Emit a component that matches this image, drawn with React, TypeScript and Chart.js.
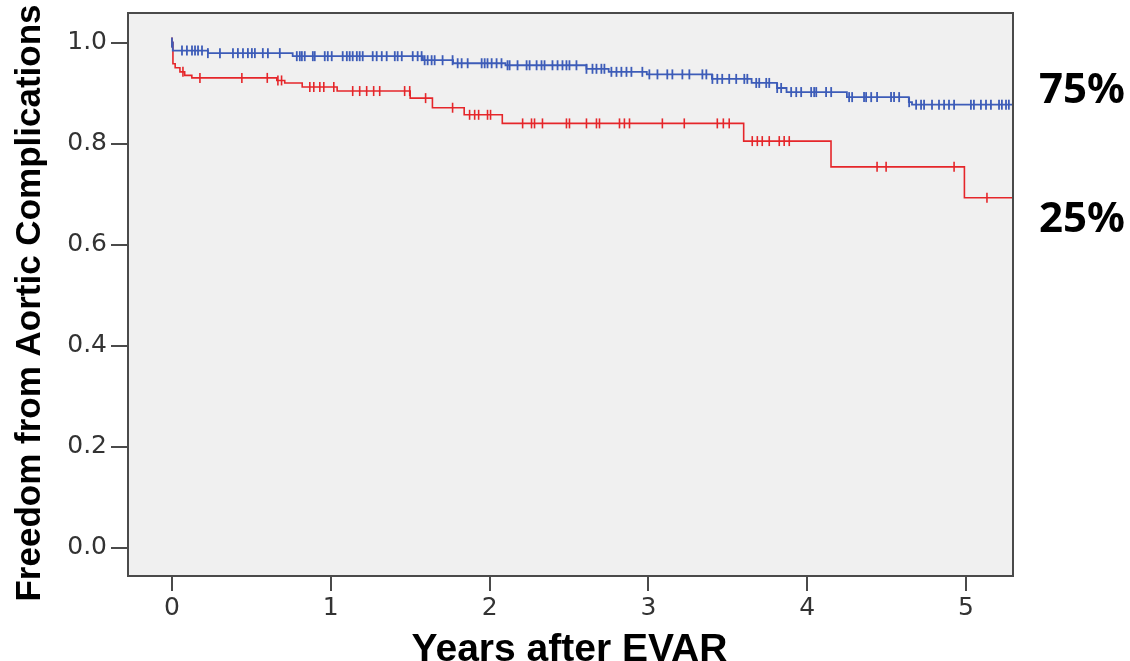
import React, { useEffect, useRef } from "react";
import { Chart, registerables } from "chart.js";

Chart.register(...registerables);

// Kaplan–Meier step times (years) and survival values
const blueTimes = [0.005, 0.226, 0.76, 1.58, 1.77, 2.1, 2.61, 2.75, 2.99, 3.4, 3.65, 3.81, 3.87, 4.25, 4.64, 4.66];
const blueSurv = [0.984, 0.979, 0.973, 0.965, 0.959, 0.955, 0.948, 0.942, 0.937, 0.928, 0.92, 0.91, 0.902, 0.892, 0.882, 0.877];

const redTimes = [0.006, 0.02, 0.05, 0.08, 0.125, 0.66, 0.71, 0.82, 1.04, 1.5, 1.64, 1.84, 2.08, 3.6, 4.15, 4.99];
const redSurv = [0.958, 0.95, 0.942, 0.935, 0.93, 0.925, 0.92, 0.912, 0.904, 0.89, 0.871, 0.857, 0.84, 0.805, 0.754, 0.693];

// Censoring times (years)
const blueCensor = [
  0.0, 0.063, 0.094, 0.126, 0.145, 0.164, 0.189, 0.226, 0.302, 0.384, 0.415, 0.447, 0.478, 0.503, 0.522, 0.572, 0.604,
  0.679, 0.786, 0.805, 0.818, 0.836, 0.887, 0.899, 0.962, 0.981, 1.006, 1.075, 1.101, 1.119, 1.138, 1.164, 1.182,
  1.201, 1.264, 1.289, 1.321, 1.352, 1.403, 1.421, 1.447, 1.516, 1.547, 1.572, 1.591, 1.61, 1.635, 1.654, 1.704,
  1.767, 1.799, 1.824, 1.862, 1.95, 1.969, 1.987, 2.013, 2.044, 2.075, 2.113, 2.126, 2.176, 2.233, 2.252, 2.296,
  2.327, 2.346, 2.396, 2.428, 2.459, 2.484, 2.503, 2.547, 2.61, 2.648, 2.673, 2.704, 2.723, 2.767, 2.799, 2.83,
  2.862, 2.893, 2.962, 3.006, 3.057, 3.119, 3.151, 3.214, 3.258, 3.34, 3.365, 3.403, 3.434, 3.465, 3.509, 3.553,
  3.604, 3.623, 3.679, 3.698, 3.742, 3.761, 3.811, 3.836, 3.899, 3.931, 3.962, 4.025, 4.044, 4.057, 4.119, 4.151,
  4.264, 4.283, 4.358, 4.371, 4.403, 4.44, 4.528, 4.547, 4.579, 4.642, 4.686, 4.717, 4.736, 4.786, 4.83, 4.862,
  4.893, 4.925, 5.031, 5.05, 5.094, 5.126, 5.157, 5.208, 5.226, 5.252, 5.27,
];
const redCensor = [
  0.0, 0.069, 0.176, 0.44, 0.6, 0.667, 0.69, 0.868, 0.893, 0.931, 0.956, 1.019, 1.138, 1.182, 1.226, 1.27, 1.308,
  1.465, 1.497, 1.597, 1.767, 1.874, 1.906, 1.931, 1.987, 2.006, 2.208, 2.264, 2.283, 2.333, 2.484, 2.503, 2.61,
  2.673, 2.692, 2.818, 2.849, 2.881, 3.088, 3.226, 3.434, 3.472, 3.509, 3.654, 3.686, 3.717, 3.761, 3.824, 3.855,
  3.887, 4.44, 4.497, 4.925, 5.132,
];

const followUpEnd = 5.3;
const xTicks = [0, 1, 2, 3, 4, 5];
const yTicks = [0, 0.2, 0.4, 0.6, 0.8, 1.0];
const groupLabels = ["75%", "25%"];
const xTitle = "Years after EVAR";
const yTitle = "Freedom from Aortic Complications";

const BLUE = "#3d5cb8";
const RED = "#e5262a";

function stepPoints(times: number[], surv: number[]) {
  const pts = [{ x: 0, y: 1 }];
  times.forEach((t, i) => pts.push({ x: t, y: surv[i] }));
  pts.push({ x: followUpEnd, y: surv[surv.length - 1] });
  return pts;
}

function survAt(times: number[], surv: number[], t: number) {
  let s = 1;
  for (let i = 0; i < times.length; i++) if (times[i] <= t) s = surv[i];
  return s;
}

function censorPoints(censor: number[], times: number[], surv: number[]) {
  return censor.map((t) => ({ x: t, y: survAt(times, surv, t) }));
}

const boxPlugin = {
  id: "boxPlugin",
  beforeDraw(chart: any) {
    const { ctx, chartArea } = chart;
    const { left, top, right, bottom } = chartArea;
    ctx.save();
    ctx.fillStyle = "#f0f0f0";
    ctx.fillRect(left, top, right - left, bottom - top);
    ctx.restore();
  },
  afterDraw(chart: any) {
    const { ctx, chartArea } = chart;
    const { left, top, right, bottom } = chartArea;
    ctx.save();
    ctx.strokeStyle = "#4a4a4a";
    ctx.lineWidth = 2;
    ctx.strokeRect(left, top, right - left, bottom - top);

    // axis titles
    ctx.fillStyle = "#000";
    ctx.font = "bold 39px 'Liberation Sans', Arial, sans-serif";
    ctx.textAlign = "center";
    ctx.textBaseline = "alphabetic";
    ctx.fillText(xTitle, (left + right) / 2 - 1, 661);

    ctx.save();
    ctx.translate(40, 303);
    ctx.rotate(-Math.PI / 2);
    ctx.font = "bold 35px 'Liberation Sans', Arial, sans-serif";
    ctx.fillText(yTitle, 0, 0);
    ctx.restore();

    // group labels
    ctx.font = "bold 42px 'Noto Sans', sans-serif";
    ctx.textAlign = "right";
    ctx.fillText(groupLabels[0], 1125, 103);
    ctx.fillText(groupLabels[1], 1125, 232);
    ctx.restore();
  },
};

export default function App() {
  const ref = useRef<HTMLCanvasElement | null>(null);

  useEffect(() => {
    if (!ref.current) return;
    const tickFont = { family: "'DejaVu Sans', sans-serif", size: 25 };
    const chart = new Chart(ref.current, {
      type: "scatter",
      data: {
        datasets: [
          {
            data: stepPoints(blueTimes, blueSurv),
            showLine: true,
            stepped: true,
            borderColor: BLUE,
            borderWidth: 1.8,
            pointRadius: 0,
          },
          {
            data: stepPoints(redTimes, redSurv),
            showLine: true,
            stepped: true,
            borderColor: RED,
            borderWidth: 1.6,
            pointRadius: 0,
          },
          {
            data: censorPoints(blueCensor, blueTimes, blueSurv),
            showLine: false,
            pointStyle: "line",
            rotation: 90,
            pointRadius: 5,
            pointBorderWidth: 1.8,
            borderColor: BLUE,
            backgroundColor: BLUE,
          },
          {
            data: censorPoints(redCensor, redTimes, redSurv),
            showLine: false,
            pointStyle: "line",
            rotation: 90,
            pointRadius: 5,
            pointBorderWidth: 1.6,
            borderColor: RED,
            backgroundColor: RED,
          },
        ],
      },
      options: {
        animation: false,
        responsive: true,
        maintainAspectRatio: false,
        layout: { padding: { left: 0, top: 13, right: 117, bottom: 0 } },
        plugins: { legend: { display: false }, tooltip: { enabled: false } },
        scales: {
          x: {
            type: "linear",
            min: -0.277,
            max: 5.296,
            afterFit: (axis: any) => {
              axis.height = 85;
              axis.paddingLeft = 0;
              axis.paddingRight = 0;
            },
            afterBuildTicks: (axis: any) => {
              axis.ticks = xTicks.map((v) => ({ value: v }));
            },
            border: { display: false },
            grid: { drawOnChartArea: false, drawTicks: true, tickLength: 15, color: "#4a4a4a", lineWidth: 2 },
            ticks: {
              font: tickFont,
              color: "#333",
              padding: 2,
              maxRotation: 0,
              callback: (v: any) => String(v),
            },
          },
          y: {
            type: "linear",
            min: -0.0554,
            max: 1.0584,
            afterFit: (axis: any) => {
              axis.width = 128;
              axis.paddingTop = 0;
              axis.paddingBottom = 0;
            },
            afterBuildTicks: (axis: any) => {
              axis.ticks = yTicks.map((v) => ({ value: v }));
            },
            border: { display: false },
            grid: { drawOnChartArea: false, drawTicks: true, tickLength: 17, color: "#4a4a4a", lineWidth: 2 },
            ticks: {
              font: tickFont,
              color: "#333",
              padding: 4,
              callback: (v: any) => Number(v).toFixed(1),
            },
          },
        },
      },
      plugins: [boxPlugin],
    });
    return () => chart.destroy();
  }, []);

  return (
    <div style={{ position: "fixed", left: 0, top: 0, width: 1130, height: 661, background: "#fff" }}>
      <canvas ref={ref} />
    </div>
  );
}
